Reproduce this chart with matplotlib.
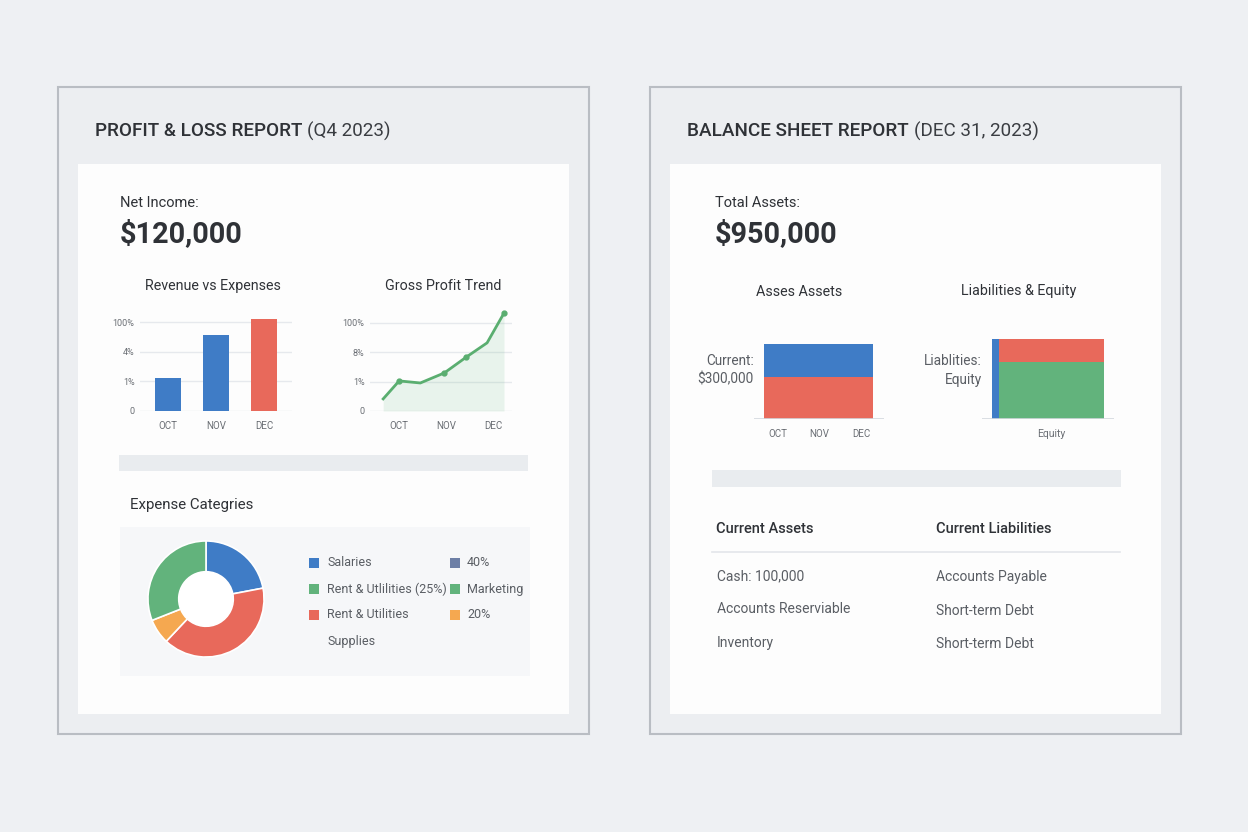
import matplotlib
matplotlib.use("Agg")
import matplotlib.pyplot as plt
from matplotlib.patches import Rectangle, Circle

plt.rcParams["font.family"] = ["Roboto", "DejaVu Sans"]

W, H = 1248, 832

# --- data -------------------------------------------------------------
months = ["OCT", "NOV", "DEC"]
rev_tick_labels = ["0", "1%", "4%", "100%"]
rev_values = [1.12, 2.58, 3.12]
rev_colors = ["#3f7cc6", "#3f7cc6", "#e8695b"]

gp_tick_labels = ["0", "1%", "8%", "100%"]
gp_x = [-0.34, 0.0, 0.45, 0.96, 1.43, 1.87, 2.23]
gp_y = [0.41, 1.02, 0.95, 1.29, 1.83, 2.31, 3.32]
gp_marked = [1, 3, 4, 6]

expense_shares = [22, 40, 7, 31]
expense_colors = ["#3f7cc6", "#e8695b", "#f5a850", "#62b37c"]
legend_labels = ["Salaries", "40%", "Rent & Utlilities (25%)", "Marketing",
                 "Rent & Utilities", "20%", "Supplies"]
legend_colors = ["#3f7cc6", "#6d7fa6", "#62b37c", "#62b37c",
                 "#e8695b", "#f5a850", None]

assets_current = 390
assets_other = 500
liabilities = 270
equity = 680
total_assets = liabilities + equity

table_left = ["Cash: 100,000", "Accounts Reserviable", "Inventory"]
table_right = ["Accounts Payable", "Short-term Debt", "Short-term Debt"]

BLUE, RED, GREEN = "#3f7cc6", "#e8695b", "#62b37c"
DARK, MID, GRID = "#2f3237", "#5a5e64", "#e6e9ed"

fig = plt.figure(figsize=(W / 100, H / 100), dpi=100)
fig.patch.set_facecolor("#eef0f3")
bg = fig.add_axes([0, 0, 1, 1])
bg.set_xlim(0, W)
bg.set_ylim(H, 0)
bg.axis("off")


def px_axes(x0, y0, x1, y1):
    return fig.add_axes([x0 / W, 1 - y1 / H, (x1 - x0) / W, (y1 - y0) / H])


def rect(x0, y0, x1, y1, **kw):
    bg.add_patch(Rectangle((x0, y0), x1 - x0, y1 - y0, **kw))


renderer = fig.canvas.get_renderer()


def two_part_title(x, y, bold, rest):
    t = bg.text(x, y, bold, fontsize=13.6, fontweight="medium", color=DARK, va="center")
    ext = t.get_window_extent(renderer)
    bg.text(ext.x1 + 5, y, rest, fontsize=13.6, color="#3a3d42", va="center")


def clean(ax):
    for s in ax.spines.values():
        s.set_visible(False)
    ax.patch.set_alpha(0)


# --- panels -----------------------------------------------------------
for x0 in (58, 650):
    rect(x0, 87, x0 + 531, 734, facecolor="#eceef1", edgecolor="#b9bdc3", lw=1.5)
    rect(x0 + 20, 164, x0 + 511, 714, facecolor="#fdfdfd", edgecolor="none")

two_part_title(95, 131, "PROFIT & LOSS REPORT", "(Q4 2023)")
two_part_title(687, 131, "BALANCE SHEET REPORT", "(DEC 31, 2023)")

bg.text(120, 203, "Net Income:", fontsize=10.5, color=DARK, va="center")
bg.text(120, 234, "$120,000", fontsize=20.8, fontweight="bold", color=DARK, va="center")
bg.text(715, 203, "Total Assets:", fontsize=10.5, color=DARK, va="center")
bg.text(715, 234, "$950,000", fontsize=20.8, fontweight="bold", color=DARK, va="center")

# separators
rect(119, 455, 528, 471, facecolor="#e9ecef", edgecolor="none")
rect(712, 470, 1121, 487, facecolor="#e9ecef", edgecolor="none")

# --- revenue vs expenses ----------------------------------------------
bg.text(213, 286, "Revenue vs Expenses", fontsize=10.3, color=DARK, ha="center", va="center")
ax = px_axes(140, 411 - 3.3 * 29.5, 292, 411)
ax.bar(range(len(months)), rev_values, width=0.54, color=rev_colors, zorder=3)
ax.set_xlim(-0.58, 2.58)
ax.set_ylim(0, 3.3)
ax.set_yticks(range(4))
ax.set_yticklabels(rev_tick_labels, fontsize=6.5, color="#6b6f75")
ax.set_xticks(range(3))
ax.set_xticklabels(months, fontsize=7, color="#6b6f75")
ax.grid(axis="y", color=GRID, lw=1, zorder=0)
ax.tick_params(length=0, pad=4)
ax.tick_params(axis="x", pad=7)
clean(ax)

# --- gross profit trend -----------------------------------------------
bg.text(443, 286, "Gross Profit Trend", fontsize=10.3, color=DARK, ha="center", va="center")
ax = px_axes(370, 411 - 3.45 * 29.5, 512, 411)
ax.fill_between(gp_x, gp_y, color="#62b37c", alpha=0.13, lw=0, zorder=2)
ax.plot(gp_x, gp_y, color="#5aae70", lw=2, zorder=3)
ax.plot([gp_x[i] for i in gp_marked], [gp_y[i] for i in gp_marked], "o",
        color="#5aae70", ms=3.5, zorder=4)
ax.set_xlim(-0.62, 2.4)
ax.set_ylim(0, 3.45)
ax.set_yticks(range(4))
ax.set_yticklabels(gp_tick_labels, fontsize=6.5, color="#6b6f75")
ax.set_xticks(range(3))
ax.set_xticklabels(months, fontsize=7, color="#6b6f75")
ax.grid(axis="y", color=GRID, lw=1, zorder=0)
ax.tick_params(length=0, pad=4)
ax.tick_params(axis="x", pad=7)
clean(ax)

# --- expense categories -----------------------------------------------
bg.text(130, 505, "Expense Categries", fontsize=10.8, color=DARK, va="center")
rect(120, 527, 530, 676, facecolor="#f6f7f9", edgecolor="none")
ax = px_axes(206 - 65, 599 - 65, 206 + 65, 599 + 65)
ax.pie(expense_shares, colors=expense_colors, startangle=90, counterclock=False,
       wedgeprops=dict(width=0.53, edgecolor="white", linewidth=1.2))
ax.add_patch(Circle((0, 0), 0.47, facecolor="white", edgecolor="none", zorder=5))
ax.set_xlim(-1.12, 1.12)
ax.set_ylim(-1.12, 1.12)

leg_cols = [(309, 327), (450, 467)]
leg_rows = [563, 589, 615, 641]
for i, (lab, col) in enumerate(zip(legend_labels, legend_colors)):
    r, c = divmod(i, 2)
    sx, tx = leg_cols[c]
    y = leg_rows[r]
    if col is not None:
        rect(sx, y - 5, sx + 10, y + 5, facecolor=col, edgecolor="none")
    bg.text(tx, y, lab, fontsize=9, color=MID, va="center")

# --- asses assets -----------------------------------------------------
bg.text(799, 292, "Asses Assets", fontsize=10.3, color=DARK, ha="center", va="center")
scale = 80 / total_assets
ax = px_axes(754, 419 - 1100 * scale, 884, 419)
ax.bar(0.975, assets_other, width=2.63, color=RED, zorder=3)
ax.bar(0.975, assets_current, width=2.63, bottom=assets_other, color=BLUE, zorder=3)
ax.axhline(0, color="#d3d8de", lw=1.2, zorder=4)
ax.set_xlim(-0.58, 2.55)
ax.set_ylim(0, 1100)
ax.set_xticks(range(3))
ax.set_xticklabels(months, fontsize=7, color="#6b6f75")
ax.set_yticks([])
ax.tick_params(length=0, pad=7)
clean(ax)
bg.text(754, 361, "Current:", fontsize=9.8, color=MID, ha="right", va="center")
bg.text(754, 379, "$300,000", fontsize=9.8, color=MID, ha="right", va="center")

# --- liabilities & equity ---------------------------------------------
bg.text(1019, 291, "Liabilities & Equity", fontsize=10.3, color=DARK, ha="center", va="center")
ax = px_axes(982, 419 - 1100 * scale, 1114, 419)
ax.bar(-0.533, total_assets, width=0.067, color=BLUE, zorder=3)
ax.bar(0, equity, width=1.0, color=GREEN, zorder=3)
ax.bar(0, liabilities, width=1.0, bottom=equity, color=RED, zorder=3)
ax.axhline(0, color="#d3d8de", lw=1.2, zorder=4)
ax.set_xlim(-0.662, 0.595)
ax.set_ylim(0, 1100)
ax.set_xticks([0])
ax.set_xticklabels(["Equity"], fontsize=7.5, color="#6b6f75")
ax.set_yticks([])
ax.tick_params(length=0, pad=7)
clean(ax)
bg.text(982, 361, "Liablities:", fontsize=9.8, color=MID, ha="right", va="center")
bg.text(982, 380, "Equity", fontsize=9.8, color=MID, ha="right", va="center")

# --- balance table ----------------------------------------------------
bg.text(716, 529, "Current Assets", fontsize=10.5, fontweight="medium", color=DARK, va="center")
bg.text(936, 529, "Current Liabilities", fontsize=10.5, fontweight="medium", color=DARK, va="center")
bg.plot([712, 1120], [552, 552], color="#e3e6ea", lw=1.2)
for y, lab in zip([576, 609, 643], table_left):
    bg.text(717, y, lab, fontsize=10, color=MID, va="center")
for y, lab in zip([577, 611, 644], table_right):
    bg.text(936, y, lab, fontsize=10, color=MID, va="center")

fig.savefig("out.png", dpi=100, facecolor=fig.get_facecolor())
